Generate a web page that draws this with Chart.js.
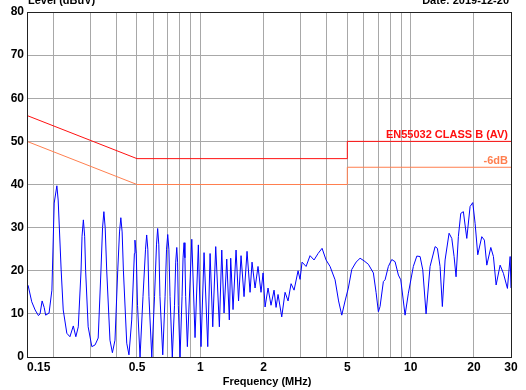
<!DOCTYPE html>
<html>
<head>
<meta charset="utf-8">
<script src="https://cdn.jsdelivr.net/npm/chart.js@4.4.1/dist/chart.umd.min.js"></script>
<style>
  html, body { margin: 0; padding: 0; background: #fff; }
  #wrap { width: 526px; height: 390px; }
</style>
</head>
<body>
<div id="wrap"><canvas id="emiChart" width="526" height="390"></canvas></div>
<script>
// axis setup
const xGridValues = [0.15, 0.2, 0.3, 0.4, 0.5, 0.6, 0.7, 0.8, 0.9, 1, 2, 3, 4, 5, 6, 7, 8, 9, 10, 20, 30];
const xTickLabels = [0.15, 0.5, 1, 2, 5, 10, 20, 30];
const yTickLabels = [0, 10, 20, 30, 40, 50, 60, 70, 80];

// limit lines (MHz / dBuV)
const limitFreq = [0.15, 0.5, 5, 5, 30];
const classBAv = [56, 46, 46, 50, 50];
const classBMargin = [50, 40, 40, 44, 44];

const traceFreq = [
  0.150, 0.152, 0.158, 0.164, 0.170, 0.173, 0.177, 0.181, 0.184, 0.191, 0.197,
  0.202, 0.208, 0.211, 0.218, 0.223, 0.232, 0.240, 0.249, 0.256, 0.263,
  0.271, 0.274, 0.278, 0.282, 0.285, 0.293, 0.305, 0.316, 0.327, 0.337,
  0.343, 0.348, 0.353, 0.359, 0.372, 0.382, 0.393, 0.405, 0.413, 0.419,
  0.425, 0.431, 0.447, 0.458, 0.472, 0.486, 0.489, 0.496, 0.503, 0.517,
  0.534, 0.549, 0.556, 0.563, 0.570, 0.588, 0.606, 0.619, 0.627, 0.635,
  0.643, 0.663, 0.680, 0.691, 0.700, 0.709, 0.718, 0.736, 0.754, 0.764,
  0.773, 0.780, 0.786, 0.801, 0.819, 0.828, 0.837, 0.845, 0.852, 0.868,
  0.911, 0.944, 0.979, 1.008, 1.042, 1.085, 1.113,
  1.146, 1.184, 1.232, 1.265, 1.297, 1.336, 1.374, 1.395, 1.431, 1.479,
  1.520, 1.562, 1.614, 1.668, 1.724, 1.762, 1.821, 1.881, 1.944, 1.988,
  2.032, 2.099, 2.169, 2.242, 2.292, 2.342, 2.439, 2.529, 2.614, 2.701,
  2.791, 2.916, 2.980, 3.046, 3.183, 3.325, 3.474, 3.630, 3.792, 3.962,
  4.139, 4.372, 4.543, 4.705, 4.878, 5.057, 5.249, 5.502, 5.749, 6.006,
  6.295, 6.650, 6.849, 7.024, 7.155, 7.419, 7.558, 7.836, 8.133, 8.433,
  8.744, 8.976, 9.408, 9.755, 10.30, 10.70, 11.09, 11.42, 11.84, 12.37,
  13.07, 13.40, 13.80, 14.15, 14.58, 15.23, 15.69, 16.09, 16.44, 16.86,
  17.31, 17.81, 18.49, 19.17, 19.74, 20.25, 20.85, 21.79, 22.42, 23.02,
  24.05, 24.75, 25.49, 26.63, 27.61, 28.85, 29.72, 30.0
];
const traceLevel = [
  17.0, 16.5, 12.8, 10.9, 9.6, 10.0, 13.0, 11.5, 9.7, 10.2, 15.5,
  35.7, 39.7, 36.4, 20.2, 10.9, 5.5, 4.7, 7.2, 4.7, 7.0,
  20.0, 28.0, 31.8, 28.0, 20.0, 7.0, 2.4, 2.8, 4.4, 20.0,
  30.0, 33.7, 30.0, 20.0, 3.9, 1.0, 3.9, 20.0, 29.0, 32.3,
  29.0, 20.0, 3.2, 0.5, 8.6, 24.0, 27.1, 24.0, 12.0, 0.0,
  14.0, 25.0, 28.3, 25.0, 14.0, 0.0, 14.0, 26.0, 29.8, 26.0,
  14.0, 0.5, 14.0, 25.0, 28.4, 25.0, 14.0, 0.0, 12.0, 22.0,
  25.4, 22.0, 12.0, 0.0, 14.0, 23.0, 26.5, 23.0, 14.0, 2.4,
  27.3, 4.5, 26.0, 2.4, 24.2, 2.4, 24.0,
  7.0, 25.6, 7.0, 24.8, 10.2, 22.7, 8.6, 22.9, 11.0, 24.8,
  13.0, 23.5, 14.0, 24.5, 15.0, 22.0, 16.0, 21.0, 15.0, 19.5,
  11.6, 16.0, 12.0, 15.5, 11.5, 14.5, 9.3, 15.0, 13.0, 17.0,
  15.5, 20.0, 18.0, 22.0, 21.0, 23.5, 22.5, 24.0, 25.2, 22.5,
  21.0, 17.9, 13.0, 9.7, 13.0, 16.0, 20.3, 22.0, 22.9, 22.3,
  21.5, 19.5, 15.0, 10.5, 11.7, 17.5, 17.9, 21.0, 22.6, 22.1,
  19.0, 17.9, 9.7, 14.8, 21.0, 23.4, 23.3, 20.2, 10.0, 21.0,
  25.6, 25.2, 21.0, 11.7, 22.5, 28.7, 27.5, 23.3, 18.6, 27.9,
  33.3, 33.7, 27.5, 34.9, 35.8, 31.0, 23.7, 27.9, 27.1, 21.3,
  25.4, 23.3, 16.7, 21.3, 19.4, 15.9, 23.3, 16.0
];

const FONT = '"Liberation Sans", Arial, sans-serif';
const RED = '#FF1010';
const ORANGE = '#FF7F4F';

const toPoints = (xs, ys) => xs.map((x, i) => ({ x: x, y: ys[i] }));

// frame + all text labels drawn on top of the plot
const framePlugin = {
    id: 'frameAndText',
    afterDatasetsDraw(chart) {
        const ctx = chart.ctx;
        const area = chart.chartArea;
        const xs = chart.scales.x;
        const ys = chart.scales.y;
        ctx.save();

        ctx.strokeStyle = '#222222';
        ctx.lineWidth = 1;
        ctx.strokeRect(area.left + 0.5, area.top + 0.5, area.right - area.left, area.bottom - area.top);

        ctx.fillStyle = '#000000';
        ctx.font = 'bold 12px ' + FONT;

        // y labels
        ctx.textAlign = 'right';
        ctx.textBaseline = 'middle';
        yTickLabels.forEach(v => {
            ctx.fillText(String(v), area.left - 3, ys.getPixelForValue(v));
        });

        // x labels
        ctx.textBaseline = 'alphabetic';
        xTickLabels.forEach((v, i) => {
            ctx.textAlign = i === 0 ? 'left' : 'center';
            const px = i === 0 ? area.left : xs.getPixelForValue(v);
            ctx.fillText(String(v), px, area.bottom + 14);
        });

        ctx.font = 'bold 11px ' + FONT;
        ctx.textAlign = 'center';
        ctx.fillText('Frequency (MHz)', (area.left + area.right) / 2 - 2, area.bottom + 28);

        // clipped header texts
        ctx.textAlign = 'left';
        ctx.fillText('Level (dBuV)', area.left + 1, 4);
        ctx.textAlign = 'right';
        ctx.fillText('Date: 2019-12-20', area.right - 2, 4);

        // limit labels
        ctx.font = 'bold 11px ' + FONT;
        ctx.fillStyle = RED;
        ctx.fillText('EN55032 CLASS B (AV)', area.right - 3, ys.getPixelForValue(50) - 3);
        ctx.fillStyle = ORANGE;
        ctx.fillText('-6dB', area.right - 3, ys.getPixelForValue(44) - 3);

        ctx.restore();
    }
};

const ctx1 = document.getElementById('emiChart').getContext('2d');
new Chart(ctx1, {
    type: 'line',
    data: {
        datasets: [
            {
                label: 'Trace',
                data: toPoints(traceFreq, traceLevel),
                borderColor: '#0000FF',
                borderWidth: 1,
                pointRadius: 0,
                tension: 0,
                fill: false
            },
            {
                label: 'EN55032 CLASS B (AV)',
                data: toPoints(limitFreq, classBAv),
                borderColor: RED,
                borderWidth: 1,
                pointRadius: 0,
                tension: 0,
                fill: false
            },
            {
                label: '-6dB',
                data: toPoints(limitFreq, classBMargin),
                borderColor: ORANGE,
                borderWidth: 1,
                pointRadius: 0,
                tension: 0,
                fill: false
            }
        ]
    },
    options: {
        responsive: false,
        animation: false,
        devicePixelRatio: 1,
        layout: { padding: { left: 27, top: 12, right: 15, bottom: 33 } },
        plugins: {
            legend: { display: false },
            tooltip: { enabled: false }
        },
        scales: {
            x: {
                type: 'logarithmic',
                min: 0.15,
                max: 30,
                afterBuildTicks: scale => {
                    scale.ticks = xGridValues.map(v => ({ value: v }));
                },
                ticks: { display: false },
                grid: { color: '#A8A8A8', lineWidth: 1, drawTicks: false },
                border: { display: false }
            },
            y: {
                type: 'linear',
                min: 0,
                max: 80,
                ticks: { display: false, stepSize: 10 },
                grid: { color: '#A8A8A8', lineWidth: 1, drawTicks: false },
                border: { display: false }
            }
        }
    },
    plugins: [framePlugin]
});
</script>
</body>
</html>
